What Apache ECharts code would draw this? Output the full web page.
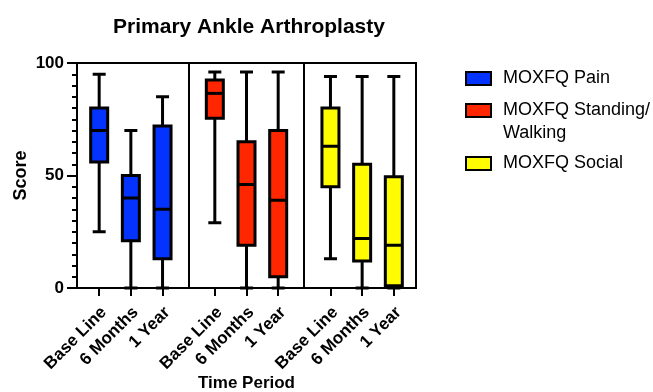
<!DOCTYPE html>
<html>
<head>
<meta charset="utf-8">
<script src="https://cdn.jsdelivr.net/npm/echarts@6/dist/echarts.min.js"></script>
<style>html,body{margin:0;padding:0;background:#fff;}#c{width:653px;height:392px;}</style>
</head>
<body>
<div id="c"></div>
<script>
// ---- data ----
const timeLabels = ['Base Line', '6 Months', '1 Year'];
const groupPositions = [[1, 2, 3], [4.65, 5.65, 6.65], [8.3, 9.3, 10.3]];
const separators = [3.825, 7.475];
const seriesNames = ['MOXFQ Pain', 'MOXFQ Standing/\nWalking', 'MOXFQ Social'];
const seriesColors = ['#0433FF', '#FF2600', '#FFFB00'];

const painMin = [25, 0, 0];
const painQ1 = [56, 21, 13];
const painMed = [70, 40, 35];
const painQ3 = [80, 50, 72];
const painMax = [95, 70, 85];

const standMin = [29, 0, 0];
const standQ1 = [75.5, 19, 5];
const standMed = [86.5, 46, 39];
const standQ3 = [92.5, 65, 70];
const standMax = [96, 96, 96];

const socialMin = [13, 0, 0];
const socialQ1 = [45, 12, 1];
const socialMed = [63, 22, 19];
const socialQ3 = [80, 55, 49.5];
const socialMax = [94, 94, 94];

const yTicks = [0, 50, 100];

// ---- build ----
const FONT = "'Liberation Sans', Arial, Helvetica, sans-serif";
const stats = [
  [painMin, painQ1, painMed, painQ3, painMax],
  [standMin, standQ1, standMed, standQ3, standMax],
  [socialMin, socialQ1, socialMed, socialQ3, socialMax]
];
const allPositions = [].concat(...groupPositions);

function makeData(g) {
  const s = stats[g];
  return groupPositions[g].map((x, i) => [x, s[0][i], s[1][i], s[2][i], s[3][i], s[4][i]]);
}

function renderBox(color) {
  return function (params, api) {
    const x = api.value(0);
    const pMin = api.coord([x, api.value(1)]);
    const pQ1 = api.coord([x, api.value(2)]);
    const pMed = api.coord([x, api.value(3)]);
    const pQ3 = api.coord([x, api.value(4)]);
    const pMax = api.coord([x, api.value(5)]);
    const cx = pMin[0];
    const half = 8.5, cap = 6.5;
    const ls = { stroke: '#000', lineWidth: 3, lineCap: 'butt' };
    return {
      type: 'group',
      children: [
        { type: 'line', shape: { x1: cx, y1: pMax[1], x2: cx, y2: pQ3[1] }, style: ls },
        { type: 'line', shape: { x1: cx, y1: pQ1[1], x2: cx, y2: pMin[1] }, style: ls },
        { type: 'line', shape: { x1: cx - cap, y1: pMax[1], x2: cx + cap, y2: pMax[1] }, style: ls },
        { type: 'line', shape: { x1: cx - cap, y1: pMin[1], x2: cx + cap, y2: pMin[1] }, style: ls },
        { type: 'rect', shape: { x: cx - half, y: pQ3[1], width: half * 2, height: pQ1[1] - pQ3[1] },
          style: { fill: color, stroke: '#000', lineWidth: 3, lineJoin: 'miter' } },
        { type: 'line', shape: { x1: cx - half, y1: pMed[1], x2: cx + half, y2: pMed[1] }, style: ls }
      ]
    };
  };
}

const series = seriesNames.map((name, g) => {
  const s = {
    name: name,
    type: 'custom',
    renderItem: renderBox(seriesColors[g]),
    itemStyle: { color: seriesColors[g], borderColor: '#000', borderWidth: 2 },
    encode: { x: 0, y: [1, 2, 3, 4, 5] },
    data: makeData(g),
    animation: false,
    silent: true
  };
  if (g === 0) {
    s.markLine = {
      silent: true,
      symbol: 'none',
      label: { show: false },
      lineStyle: { color: '#000', width: 2, type: 'solid' },
      data: separators.map(v => ({ xAxis: v })),
      animation: false
    };
  }
  return s;
});

function legendFor(g, top, extra) {
  return Object.assign({
    data: [{ name: seriesNames[g], icon: 'rect',
             itemStyle: { color: seriesColors[g], borderColor: '#000', borderWidth: 2 } }],
    left: 465, top: top, padding: 0,
    orient: 'vertical',
    itemWidth: 25, itemHeight: 13,
    selectedMode: false,
    textStyle: { fontSize: 18, color: '#000', fontFamily: FONT, lineHeight: 23, padding: [0, 0, 0, 7] }
  }, extra || {});
}

const option = {
  backgroundColor: '#fff',
  animation: false,
  title: {
    text: 'Primary Ankle Arthroplasty',
    left: 244, top: 12, textAlign: 'center',
    textStyle: { fontSize: 21, fontWeight: 'bold', color: '#000', fontFamily: FONT }
  },
  legend: [
    legendFor(0, 67),
    legendFor(1, 76, { formatter: function (n) { return '\n' + n; } }),
    legendFor(2, 152)
  ],
  grid: {
    left: 77, right: 237, top: 63, bottom: 104,
    outerBoundsMode: 'none', containLabel: false,
    show: true, borderColor: '#000', borderWidth: 2, backgroundColor: 'transparent'
  },
  xAxis: {
    type: 'value', min: 0.3, max: 11.0,
    splitLine: { show: false },
    axisLine: { show: true, lineStyle: { color: '#000', width: 2 } },
    axisTick: { show: true, customValues: allPositions, length: 8, lineStyle: { color: '#000', width: 2 } },
    axisLabel: {
      customValues: allPositions,
      rotate: 45, margin: 17,
      verticalAlign: 'top', lineHeight: 13.6,
      fontSize: 17, fontWeight: 'bold', color: '#000', fontFamily: FONT,
      formatter: function (v) {
        let best = 0, d = Infinity;
        allPositions.forEach((p, i) => { if (Math.abs(p - v) < d) { d = Math.abs(p - v); best = i; } });
        return timeLabels[best % 3];
      }
    },
    name: 'Time Period', nameLocation: 'middle', nameGap: 87, nameMoveOverlap: false,
    nameTextStyle: { fontSize: 17, fontWeight: 'bold', color: '#000', fontFamily: FONT }
  },
  yAxis: {
    type: 'value', min: 0, max: 100, interval: 50,
    splitLine: { show: false },
    axisLine: { show: true, lineStyle: { color: '#000', width: 2 } },
    axisTick: { show: true, length: 10, lineStyle: { color: '#000', width: 2 } },
    minorTick: { show: true, splitNumber: 10, length: 5, lineStyle: { color: '#000', width: 2 } },
    minorSplitLine: { show: false },
    axisLabel: {
      margin: 13, fontSize: 17, fontWeight: 'bold', color: '#000', fontFamily: FONT,
      customValues: yTicks
    },
    name: 'Score', nameLocation: 'middle', nameGap: 47, nameRotate: 90, nameMoveOverlap: false,
    nameTextStyle: { fontSize: 18, fontWeight: 'bold', color: '#000', fontFamily: FONT }
  },
  series: series
};

const chart = echarts.init(document.getElementById('c'), null, { renderer: 'canvas' });
chart.setOption(option);
</script>
</body>
</html>
